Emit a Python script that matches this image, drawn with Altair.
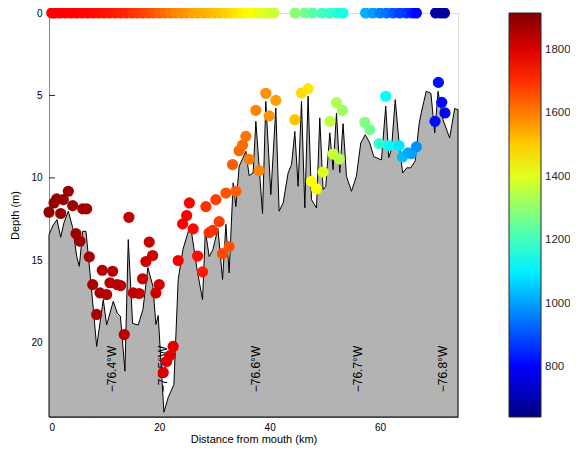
import altair as alt
import pandas as pd

# ---------------- data ----------------
bathy_km = [0.0, 0.72, 1.45, 2.12, 2.72, 3.50, 4.29, 5.02, 5.49, 6.11, 6.70, 7.43, 8.64, 9.84,
            10.45, 11.65, 12.41, 12.95, 13.77, 14.37, 15.16, 16.18, 17.03, 17.93, 18.84, 19.38,
            19.80, 20.71, 20.83, 21.61, 22.64, 23.42, 24.28, 25.36, 25.85, 26.90, 27.84, 28.35,
            29.04, 29.71, 30.62, 31.47, 32.07, 32.66, 33.39, 33.88, 34.47, 35.69, 36.29, 37.01,
            37.50, 38.71, 39.31, 40.22, 41.12, 41.72, 42.45, 43.35, 43.97, 44.57, 45.16, 45.78,
            46.38, 46.97, 47.59, 48.50, 49.09, 49.69, 50.18, 50.91, 51.50, 52.12, 52.72, 53.31,
            53.93, 54.84, 55.74, 56.52, 57.34, 58.15, 58.88, 60.27, 61.05, 61.59, 62.08, 62.77,
            63.50, 64.13, 64.86, 65.58, 66.39, 67.12, 67.52, 68.39, 69.24, 69.93, 70.53, 71.43,
            72.64, 73.55, 74.15]
bathy_depth = [13.44, 12.89, 12.53, 13.60, 12.71, 12.02, 13.01, 14.75, 15.36, 13.24, 13.24, 15.74,
               20.22, 17.38, 18.92, 17.48, 18.22, 18.39, 21.72, 13.74, 18.83, 18.92, 17.98, 15.44,
               16.57, 18.89, 18.35, 23.50, 24.21, 23.32, 22.53, 16.16, 14.35, 13.13, 13.32, 15.68,
               17.38, 13.19, 14.77, 14.35, 13.07, 16.16, 12.82, 15.76, 10.30, 11.74, 9.30, 8.39,
               9.86, 9.70, 6.57, 12.16, 5.36, 11.01, 5.76, 12.02, 11.52, 9.70, 9.19, 7.18, 10.51,
               5.36, 11.82, 5.05, 11.32, 11.82, 6.36, 10.71, 10.51, 7.27, 9.50, 6.06, 9.68, 6.71,
               9.90, 10.81, 9.90, 7.88, 7.38, 7.88, 8.71, 8.91, 5.65, 8.77, 8.28, 5.25, 7.98, 9.70,
               9.39, 9.39, 8.97, 6.67, 6.01, 4.75, 4.87, 7.27, 4.75, 6.47, 7.58, 5.79, 5.86]

surf_km = [0.5, 1, 2, 3, 4, 5, 6, 7, 8, 9, 10, 11, 12, 13, 14, 15, 16, 17, 18, 19, 20, 21, 22,
           23, 24, 25, 26, 27, 28, 29, 30, 31, 32, 33, 34, 35, 36, 37, 38, 39, 40, 40.8,
           44.6, 46.4, 47.8, 49.5, 50.9, 52.2, 53.3,
           57.4, 58.7, 60.0, 61.2, 62.4, 63.6, 64.8, 65.9, 66.6,
           70.1, 71.0, 71.7]
surf_val = [1765, 1762, 1760, 1758, 1756, 1753, 1750, 1747, 1743, 1738, 1733, 1728, 1722, 1717,
            1708, 1698, 1688, 1676, 1663, 1650, 1636, 1620, 1605, 1592, 1580, 1569, 1558, 1548,
            1540, 1532, 1522, 1510, 1498, 1485, 1470, 1457, 1445, 1432, 1408, 1395, 1382, 1370,
            1290, 1260, 1230, 1205, 1185, 1165, 1148,
            1021, 1000, 961, 945, 910, 883, 867, 835, 800,
            690, 680, 670]

cast_km = [0.0, 0.91, 1.39, 2.12, 2.59, 3.50, 4.29, 6.11, 6.83, 4.89, 5.62, 7.30, 7.92, 8.64, 9.24,
           9.66, 10.45, 11.05, 11.54, 12.37, 12.99, 13.64,
           14.49, 15.27, 16.36, 16.97, 17.57, 18.17, 18.79, 19.38, 19.98,
           20.71, 21.32, 21.92, 22.52,
           23.42, 24.22, 24.95, 25.45, 26.14, 26.94,
           27.84, 28.44, 29.04, 29.66, 30.25, 30.85, 31.47, 32.07, 32.66, 33.88, 33.28, 34.47,
           35.09, 35.69, 36.29, 38.10, 37.50, 39.31, 39.91, 41.12,
           44.57, 45.78, 46.97, 47.59, 48.50, 49.69, 50.91, 52.12, 53.21, 51.50, 52.63,
           57.25, 58.15, 59.84, 61.05, 61.65, 63.46, 64.08, 65.09, 65.71, 66.61,
           70.60, 71.20, 71.79, 69.98]
cast_depth = [12.08, 11.52, 11.27, 12.16, 11.32, 10.81, 11.68, 11.88, 11.88, 13.38, 13.84, 14.79,
              16.47, 18.28, 16.97,
              15.60, 17.07, 16.36, 15.66, 16.47, 16.53, 19.50,
              12.39, 16.97, 17.01, 16.12, 15.07, 13.89, 14.71, 16.98, 16.47,
              21.80, 21.13, 20.77, 20.22,
              15.01, 12.79, 12.28, 11.52, 13.09, 14.74,
              15.70, 11.74, 13.32, 13.18, 11.32, 12.65, 14.59, 10.92, 14.16, 10.81, 9.19, 8.35,
              8.01, 7.48, 8.87, 9.56, 5.90, 4.87, 6.24, 5.30,
              6.47, 4.85, 4.59, 10.21, 10.67, 9.65, 6.57, 5.44, 5.90, 8.56, 8.86,
              6.63, 7.07, 7.92, 5.05, 8.04, 8.04, 8.73, 8.48, 8.53, 8.12,
              4.21, 5.42, 6.06, 6.57]
cast_val = [1885, 1885, 1883, 1882, 1882, 1880, 1878, 1872, 1870, 1876, 1874, 1868, 1865, 1862, 1860,
            1855, 1852, 1850, 1848, 1846, 1844, 1840,
            1835, 1832, 1830, 1826, 1822, 1820, 1818, 1815, 1812,
            1800, 1798, 1795, 1792,
            1765, 1762, 1758, 1755, 1748, 1740,
            1725, 1700, 1700, 1695, 1680, 1680, 1665, 1655, 1655, 1640, 1640, 1630,
            1620, 1612, 1600, 1592, 1592, 1575, 1572, 1555,
            1510, 1485, 1470, 1438, 1432, 1400, 1358, 1340, 1320, 1370, 1352,
            1279, 1262, 1180, 1125, 1118, 1090, 1040, 1022, 1005, 982,
            822, 810, 790, 818]

lon_km = [11.5, 20.7, 37.6, 56.0, 71.4]
lon_text = ["\u221276.4\u00b0W", "\u221276.5\u00b0W", "\u221276.6\u00b0W",
            "\u221276.7\u00b0W", "\u221276.8\u00b0W"]
lon_depth = [23.0, 23.0, 23.0, 23.0, 23.0]

x_ticks = [0, 20, 40, 60]
y_ticks = [0, 5, 10, 15, 20]
cbar_ticks = [800, 1000, 1200, 1400, 1600, 1800]

X_MAX = 74.15
Y_MAX = 24.5
C_MIN, C_MAX = 643, 1915
jet_colors = ["#000080", "#0000ff", "#00ffff", "#ffff00", "#ff0000", "#800000"]
jet_stops = [0, 0.125, 0.375, 0.625, 0.875, 1.0]

FONT = "Liberation Sans"
INK = "#262626"

# ---------------- frames ----------------
bathy = pd.DataFrame({"km": bathy_km, "depth": bathy_depth})
pts = pd.concat([
    pd.DataFrame({"km": cast_km, "depth": cast_depth, "val": cast_val}),
    pd.DataFrame({"km": surf_km, "depth": [0.0] * len(surf_km), "val": surf_val}),
], ignore_index=True)
pts["order"] = range(len(pts))
lons = pd.DataFrame({"km": lon_km, "depth": lon_depth, "label": lon_text})
yt = pd.DataFrame({"depth": y_ticks})

x_enc = alt.X("km:Q",
              scale=alt.Scale(domain=[0, X_MAX], nice=False, zero=False),
              axis=alt.Axis(values=x_ticks, ticks=False, grid=False, labelPadding=5,
                            title="Distance from mouth (km)", titlePadding=1,
                            titleFontWeight="normal", labelFontWeight="normal"))
y_enc = alt.Y("depth:Q",
              scale=alt.Scale(domain=[0, Y_MAX], nice=False, zero=False, reverse=True),
              axis=alt.Axis(values=y_ticks, ticks=False, grid=False, labelPadding=7,
                            title="Depth (m)", titlePadding=10,
                            titleFontWeight="normal", labelFontWeight="normal"))

color_scale = alt.Scale(domain=[C_MIN + s * (C_MAX - C_MIN) for s in jet_stops],
                        range=jet_colors, interpolate="rgb", zero=False, nice=False)

ticks = alt.Chart(yt).mark_rule(color=INK, strokeWidth=1).encode(
    y=y_enc, x=alt.value(0), x2=alt.value(6))

area = alt.Chart(bathy).mark_area(fill="#b3b3b3", stroke="black", strokeWidth=1,
                                  interpolate="linear").encode(
    x=x_enc, y=y_enc, y2=alt.datum(Y_MAX))

texts = alt.Chart(lons).mark_text(angle=270, align="left", baseline="middle",
                                  font=FONT, fontSize=12, color="black").encode(
    x=x_enc, y=y_enc, text="label:N")

points = alt.Chart(pts).mark_circle(size=125, opacity=1).encode(
    x=x_enc, y=y_enc,
    order=alt.Order("order:Q"),
    color=alt.Color("val:Q", scale=color_scale,
                    legend=alt.Legend(title=None, orient="none", legendX=460, legendY=0,
                                      direction="vertical", gradientLength=404,
                                      gradientThickness=32, gradientStrokeColor=INK,
                                      gradientStrokeWidth=1, values=cbar_ticks, format="d",
                                      labelFontSize=11.5, labelOffset=4, labelColor=INK,
                                      labelFont=FONT, labelOverlap=False, padding=0)))

chart = alt.layer(ticks, area, texts, points).properties(
    width=409, height=404,
    autosize=alt.AutoSizeParams(type="none"),
    padding={"left": 41, "top": 5, "right": 112, "bottom": 31},
).configure_view(stroke=None).configure_axis(
    labelFont=FONT, titleFont=FONT, labelFontSize=13, titleFontSize=14,
    labelColor=INK, titleColor=INK, titleFontWeight="normal",
    domainColor=INK, domainWidth=1,
).configure(background="white")

chart.save("out.html", embed_options={"renderer": "svg", "actions": False})
